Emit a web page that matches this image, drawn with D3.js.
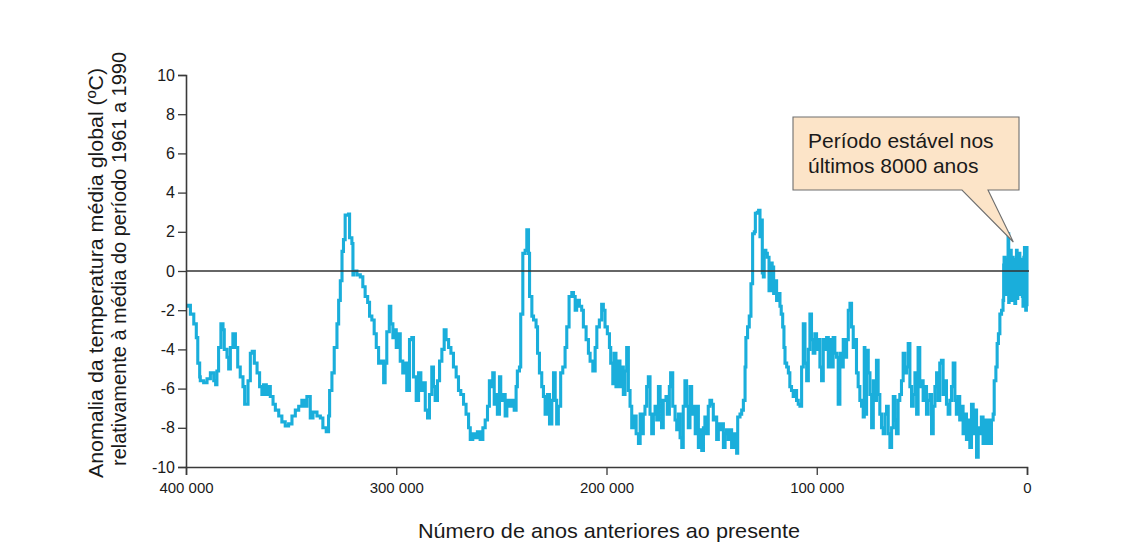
<!DOCTYPE html>
<html lang="pt">
<head>
<meta charset="utf-8">
<title>Anomalia da temperatura global – últimos 400 000 anos</title>
<script src="https://cdn.jsdelivr.net/npm/d3@7/dist/d3.min.js"></script>
<style>
  html, body { margin: 0; padding: 0; background: #ffffff; }
  svg { display: block; font-family: "Liberation Sans", Arial, Helvetica, sans-serif; }
</style>
</head>
<body>
<svg id="chart" width="1135" height="557"></svg>
<script>
// Ice-core temperature reconstruction: [milhares de anos antes do presente, anomalia ºC]
const record = [
  [400.0,-1.8],[399.2,-1.75],[397.9,-2.2],[396.3,-2.7],[395.1,-3.4],[394.4,-4.7],[393.5,-5.4],[393.2,-5.6],
  [391.6,-5.7],[390.0,-5.5],[388.4,-5.2],[386.8,-5.6],[385.9,-5.8],[385.3,-5.1],[384.5,-3.9],[383.4,-2.7],
  [382.4,-3.0],[381.8,-4.0],[380.5,-4.4],[379.7,-5.0],[378.9,-3.9],[377.7,-3.2],[376.5,-3.9],[375.4,-4.9],
  [374.2,-5.4],[372.9,-5.9],[372.1,-6.8],[371.0,-6.8],[370.5,-5.6],[369.4,-4.2],[368.5,-4.1],[367.5,-4.7],
  [366.2,-5.2],[365.0,-5.9],[363.9,-6.3],[363.1,-5.8],[361.8,-6.3],[360.7,-5.9],[359.9,-6.4],[358.6,-6.8],
  [357.5,-7.1],[355.9,-7.4],[354.4,-7.7],[352.8,-7.9],[351.2,-7.8],[349.6,-7.4],[348.0,-7.1],[346.4,-6.9],
  [344.9,-6.6],[343.7,-6.9],[342.5,-6.4],[341.2,-6.4],[340.9,-7.5],[339.6,-7.2],[337.7,-7.4],[336.1,-7.5],
  [334.9,-8.0],[333.3,-8.2],[332.2,-7.4],[331.7,-6.1],[330.6,-5.2],[329.5,-3.9],[328.2,-2.7],[327.4,-1.5],
  [326.6,-0.5],[325.8,1.0],[325.1,1.6],[324.3,2.85],[322.7,2.9],[322.2,1.7],[321.1,1.4],[320.6,-0.2],
  [320.3,0.0],[318.7,-0.2],[317.1,-0.3],[315.9,-0.8],[314.8,-1.3],[313.6,-1.6],[312.7,-2.3],[311.6,-2.5],
  [310.5,-3.2],[309.5,-3.9],[308.4,-4.7],[307.3,-4.6],[306.0,-5.7],[305.3,-4.7],[304.5,-3.1],[303.3,-1.8],
  [302.6,-2.7],[301.6,-3.4],[301.0,-3.0],[300.0,-3.9],[298.9,-3.2],[298.1,-4.6],[296.9,-5.2],[295.7,-4.7],
  [295.0,-6.1],[293.7,-3.5],[292.6,-3.4],[291.8,-5.4],[290.5,-6.6],[289.4,-5.2],[288.3,-6.1],[287.0,-5.7],
  [286.2,-7.1],[285.1,-7.5],[284.2,-6.3],[283.1,-4.9],[282.3,-5.9],[281.5,-6.6],[280.4,-5.6],[279.4,-4.6],
  [278.3,-4.0],[277.2,-3.0],[276.3,-3.5],[275.1,-3.9],[274.0,-4.2],[272.8,-4.9],[271.5,-5.4],[270.4,-6.1],
  [269.3,-6.3],[268.0,-6.8],[266.8,-7.3],[265.6,-8.0],[264.8,-8.6],[263.6,-8.3],[262.5,-8.5],[261.4,-8.2],
  [260.1,-8.6],[258.8,-8.0],[257.7,-7.6],[256.6,-6.9],[255.7,-5.6],[255.0,-5.9],[254.1,-5.2],[253.4,-6.8],
  [252.5,-6.3],[251.9,-7.3],[250.9,-5.4],[250.3,-6.6],[249.3,-6.3],[248.2,-7.4],[247.4,-6.6],[246.2,-6.9],
  [245.0,-6.6],[243.9,-7.1],[243.0,-5.9],[242.4,-5.1],[241.4,-4.9],[240.8,-2.2],[239.8,0.9],[238.7,1.05],
  [237.9,2.1],[237.1,0.9],[236.6,-1.3],[235.5,-2.3],[234.7,-2.5],[233.5,-2.85],[232.8,-4.2],[231.9,-5.2],
  [230.8,-5.9],[230.0,-6.4],[229.2,-7.3],[228.1,-6.3],[227.1,-7.8],[226.0,-6.6],[225.2,-5.2],[224.4,-6.6],
  [223.7,-7.8],[222.9,-6.9],[221.8,-5.2],[220.8,-4.9],[219.7,-3.9],[218.9,-2.85],[217.8,-1.3],[216.5,-1.1],
  [215.7,-1.3],[214.9,-2.0],[214.2,-1.5],[212.9,-1.8],[211.8,-2.0],[211.0,-2.85],[209.7,-3.5],[208.6,-4.2],
  [207.8,-4.6],[206.5,-5.1],[205.4,-3.9],[204.6,-2.85],[203.4,-2.5],[202.3,-1.7],[201.5,-2.0],[200.7,-2.85],
  [199.6,-3.2],[198.6,-3.9],[198.0,-4.7],[197.0,-5.75],[196.4,-4.2],[195.5,-5.9],[194.3,-4.6],[193.6,-5.9],
  [192.8,-4.9],[192.0,-6.3],[191.2,-5.1],[190.4,-3.9],[189.6,-6.1],[188.8,-6.9],[188.0,-8.0],[186.9,-7.4],
  [185.9,-8.3],[184.8,-8.8],[184.0,-7.3],[183.3,-8.3],[182.5,-7.3],[181.7,-6.9],[180.9,-5.9],[180.1,-5.4],
  [179.3,-7.3],[178.5,-8.3],[177.7,-7.3],[176.9,-6.9],[176.1,-7.6],[175.3,-5.9],[174.5,-6.6],[173.8,-8.0],
  [173.0,-6.6],[171.7,-6.4],[171.1,-7.3],[170.1,-5.9],[169.5,-5.2],[168.5,-6.9],[167.4,-7.6],[166.6,-8.1],
  [165.8,-7.3],[165.0,-8.5],[164.2,-9.0],[163.5,-6.9],[162.7,-5.6],[161.9,-6.9],[161.1,-8.0],[160.3,-5.9],
  [159.5,-7.3],[158.7,-6.9],[157.8,-8.3],[157.1,-6.9],[156.3,-9.0],[155.5,-8.1],[154.7,-9.15],[153.9,-8.0],
  [153.2,-7.45],[152.4,-8.3],[151.6,-6.9],[150.8,-6.6],[150.0,-6.8],[149.2,-7.6],[148.4,-7.45],[147.6,-8.6],
  [146.8,-7.8],[146.0,-8.1],[145.2,-7.8],[144.4,-9.0],[143.6,-8.3],[142.9,-8.1],[142.1,-8.6],[141.3,-8.1],
  [140.5,-9.0],[139.7,-8.3],[138.9,-9.0],[138.1,-9.3],[137.6,-7.45],[136.5,-7.3],[135.7,-7.1],[134.9,-6.6],
  [134.1,-4.9],[133.7,-3.4],[132.9,-2.85],[132.1,-2.3],[131.3,-0.65],[130.5,1.9],[129.7,2.0],[129.2,2.95],
  [128.3,3.0],[127.65,3.1],[127.0,1.75],[126.5,2.6],[125.9,-0.1],[125.4,-0.3],[125.0,1.05],[124.2,0.9],
  [123.5,0.7],[122.7,-1.0],[121.9,0.4],[121.2,0.2],[120.5,-1.15],[119.7,-0.5],[119.1,-1.5],[118.3,-1.15],
  [117.5,-1.8],[116.9,-2.2],[116.2,-2.85],[115.6,-3.9],[115.1,-4.7],[114.3,-4.9],[113.5,-5.2],[112.8,-5.9],
  [112.0,-6.1],[111.2,-6.4],[110.4,-6.1],[109.6,-6.6],[108.8,-6.8],[108.0,-6.9],[107.2,-4.9],[106.4,-2.7],
  [105.6,-4.7],[104.8,-5.6],[104.0,-4.0],[103.25,-2.2],[102.5,-3.5],[101.7,-4.2],[100.9,-3.2],[100.1,-4.0],
  [99.3,-3.5],[98.5,-4.9],[97.7,-5.6],[96.9,-3.5],[96.1,-4.0],[95.3,-3.4],[94.5,-4.9],[93.7,-3.5],
  [92.95,-4.9],[92.2,-3.4],[91.4,-4.2],[90.6,-4.4],[89.8,-6.8],[89.0,-4.2],[88.2,-4.9],[87.4,-3.5],
  [86.6,-4.4],[85.8,-3.5],[85.0,-2.0],[84.2,-1.65],[83.45,-2.85],[82.65,-3.9],[81.9,-3.5],[81.1,-5.2],
  [80.3,-5.9],[79.5,-6.6],[78.7,-6.9],[77.9,-7.45],[77.4,-3.9],[77.1,-7.3],[76.3,-4.05],[75.5,-5.2],
  [74.7,-6.3],[73.9,-8.0],[73.1,-5.6],[72.4,-6.6],[71.6,-4.55],[70.8,-6.3],[70.0,-7.3],[69.2,-8.0],
  [68.4,-8.3],[67.6,-7.3],[66.8,-6.9],[66.0,-8.3],[65.2,-9.0],[64.4,-8.0],[63.6,-6.4],[62.8,-7.6],
  [62.1,-8.3],[61.3,-6.6],[60.5,-6.3],[59.7,-5.6],[58.9,-4.2],[58.1,-5.2],[57.3,-4.9],[56.5,-3.7],
  [55.7,-5.9],[54.9,-6.9],[54.1,-6.3],[53.3,-5.2],[52.5,-7.3],[51.8,-3.9],[51.0,-5.9],[50.2,-5.6],
  [49.4,-6.6],[48.6,-5.9],[47.8,-7.3],[47.0,-6.6],[46.2,-6.3],[45.4,-8.3],[44.6,-6.9],[43.8,-5.9],
  [43.0,-5.2],[42.3,-6.6],[41.5,-4.7],[40.7,-4.55],[39.9,-6.3],[39.1,-5.6],[38.3,-6.8],[37.5,-7.3],
  [36.7,-6.6],[35.9,-5.9],[35.1,-4.7],[34.3,-6.6],[33.6,-7.3],[32.8,-6.4],[32.0,-7.6],[31.2,-6.9],
  [30.4,-8.3],[29.6,-7.3],[28.8,-8.6],[28.0,-7.6],[27.2,-9.0],[26.4,-6.8],[25.6,-8.3],[24.8,-7.1],
  [24.0,-9.5],[23.2,-8.0],[22.5,-8.3],[21.7,-7.45],[20.9,-8.8],[20.1,-7.6],[19.3,-8.8],[18.5,-7.6],
  [17.7,-8.8],[16.9,-7.6],[16.1,-7.3],[15.6,-5.6],[14.8,-4.9],[14.2,-3.7],[13.6,-3.2],[12.9,-2.2],
  [12.1,-2.0],[11.4,-1.5],[11.1,0.3],[10.9,0.7],[10.5,-1.2],[10.1,-1.0],[9.8,0.6],[9.5,-0.5],[9.0,1.9],
  [8.7,-1.6],[8.5,-1.15],[8.2,0.8],[7.9,1.05],[7.5,-1.3],[7.2,-1.5],[6.9,0.7],[6.6,0.55],[6.2,-1.2],
  [5.8,-1.65],[5.4,0.6],[5.0,1.05],[4.7,-1.4],[4.4,-1.15],[4.1,0.7],[3.8,0.9],[3.4,-1.2],[3.1,-1.0],
  [2.8,0.6],[2.5,0.55],[2.2,-1.3],[1.9,-1.8],[1.5,0.7],[1.2,1.2],[0.9,-1.2],[0.6,-2.0],[0.3,1.2],[0.0,-1.8]
];

// Axis ticks
const yTickValues = [-10, -8, -6, -4, -2, 0, 2, 4, 6, 8, 10];
const xTickValues = [400, 300, 200, 100, 0];          // milhares de anos
const xTickLabels = ["400 000", "300 000", "200 000", "100 000", "0"];

// Text
const xTitle = "Número de anos anteriores ao presente";
const yTitleLines = ["Anomalia da temperatura média global (ºC)",
                     "relativamente à média do período 1961 a 1990"];
const calloutLines = ["Período estável nos", "últimos 8000 anos"];

const svg = d3.select("#chart");
const plot = { left: 186, right: 1027, top: 75, bottom: 467 };

const x = d3.scaleLinear().domain([400, 0]).range([plot.left, plot.right]);
const y = d3.scaleLinear().domain([-10, 10]).range([plot.bottom, plot.top]);

const axisColor = "#3a3a3a";

// Temperature trace (step line)
const line = d3.line()
  .x(d => x(d[0]))
  .y(d => y(d[1]))
  .curve(d3.curveStepAfter);

svg.append("path")
  .datum(record)
  .attr("d", line)
  .attr("fill", "none")
  .attr("stroke", "#1aaedb")
  .attr("stroke-width", 3.1)
  .attr("stroke-linejoin", "miter");

// Zero reference line, drawn over the trace
svg.append("line")
  .attr("x1", plot.left).attr("x2", plot.right + 2)
  .attr("y1", y(0)).attr("y2", y(0))
  .attr("stroke", "#333333")
  .attr("stroke-width", 1.5);

// Y axis
const yAxis = svg.append("g")
  .attr("transform", `translate(${plot.left},0)`)
  .call(d3.axisLeft(y).tickValues(yTickValues).tickSize(8).tickPadding(3)
        .tickFormat(d => String(d)));
yAxis.select(".domain").attr("stroke", axisColor).attr("stroke-width", 1.6);
yAxis.selectAll(".tick line").attr("stroke", axisColor).attr("stroke-width", 1.3);
yAxis.selectAll(".tick text")
  .attr("fill", "#1a1a1a")
  .style("font-size", "16px")
  .style("font-family", "'Liberation Sans', Arial, sans-serif");

// X axis
const xAxis = svg.append("g")
  .attr("transform", `translate(0,${plot.bottom})`)
  .call(d3.axisBottom(x).tickValues(xTickValues).tickSize(8).tickPadding(7)
        .tickFormat((d, i) => xTickLabels[i]));
xAxis.select(".domain").attr("stroke", axisColor).attr("stroke-width", 1.6);
xAxis.selectAll(".tick line").attr("stroke", axisColor).attr("stroke-width", 1.3);
xAxis.selectAll(".tick text")
  .attr("fill", "#1a1a1a")
  .style("font-size", "15px")
  .style("font-family", "'Liberation Sans', Arial, sans-serif");

// X axis title
svg.append("text")
  .attr("x", 609).attr("y", 538)
  .attr("text-anchor", "middle")
  .attr("fill", "#1a1a1a")
  .style("font-size", "21px")
  .attr("textLength", 382)
  .attr("lengthAdjust", "spacingAndGlyphs")
  .text(xTitle);

// Y axis title (two rotated lines)
const yTitleX = [103, 126];
const yTitleY = [478, 466];
const yTitleLen = [410, 414];
yTitleLines.forEach((t, i) => {
  svg.append("text")
    .attr("transform", `translate(${yTitleX[i]},${yTitleY[i]}) rotate(-90)`)
    .attr("text-anchor", "start")
    .attr("fill", "#1a1a1a")
    .style("font-size", "20px")
    .attr("textLength", yTitleLen[i])
    .attr("lengthAdjust", "spacingAndGlyphs")
    .text(t);
});

// Callout box with pointer to the recent stable period
const box = { x0: 793, y0: 117, x1: 1019, y1: 190 };
const tip = [x(6.5), 242];
svg.append("path")
  .attr("d", `M${box.x0},${box.y0} H${box.x1} V${box.y1} H988 L${tip[0]},${tip[1]} L962,${box.y1} H${box.x0} Z`)
  .attr("fill", "#fce4c8")
  .attr("stroke", "#6e6e6e")
  .attr("stroke-width", 1.1)
  .attr("stroke-linejoin", "miter");

calloutLines.forEach((t, i) => {
  svg.append("text")
    .attr("x", 808).attr("y", 148 + i * 25)
    .attr("fill", "#1a1a1a")
    .style("font-size", "21px")
    .text(t);
});
</script>
</body>
</html>
